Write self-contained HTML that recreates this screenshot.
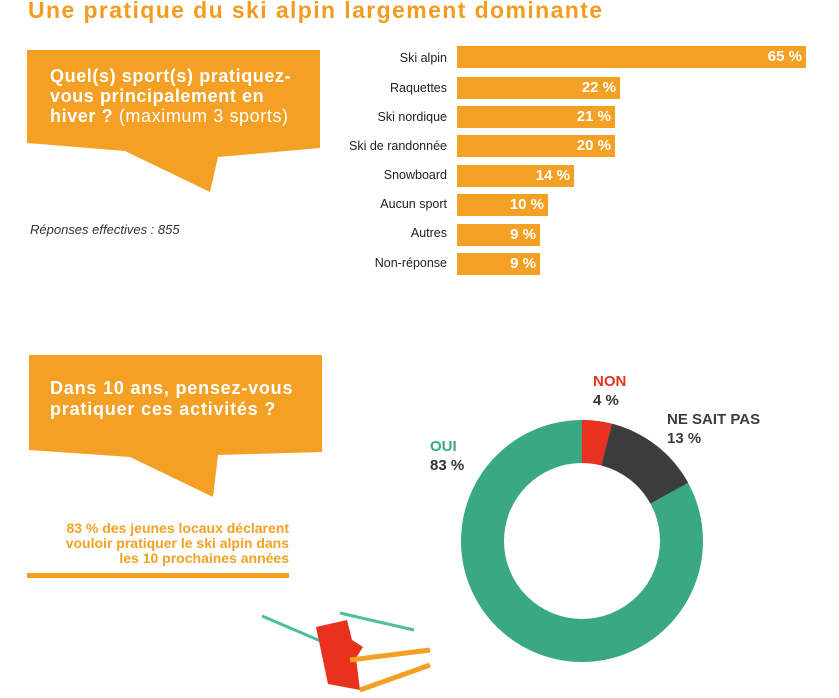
<!DOCTYPE html>
<html><head><meta charset="utf-8"><style>
body{margin:0;width:839px;height:698px;background:#fff;position:relative;overflow:hidden;font-family:"Liberation Sans",sans-serif}
.a{position:absolute}
.lbl{position:absolute;right:392px;font-size:12.5px;color:#222;text-align:right;white-space:nowrap}
.bar{position:absolute;left:457px;height:22px;background:#f4a024;color:#fff;font-weight:bold;font-size:15px;text-align:right;line-height:22px;box-sizing:border-box;padding-right:4px}
</style></head><body>
<div class="a" style="left:28px;top:-3px;font-size:23px;letter-spacing:1.4px;font-weight:bold;color:#f39c1f;white-space:nowrap">Une pratique du ski alpin largement dominante</div>
<svg class="a" style="left:0;top:0" width="839" height="698">
<polygon points="27,50 320,50 320,148 218,157 210,192 125,151 27,143" fill="#f4a024"/>
<polygon points="29,355 322,355 322,452 218,455 213,497 130,457 29,450" fill="#f4a024"/>
<rect x="27" y="573" width="262" height="5" fill="#f4a024"/>
<circle cx="582" cy="541" r="99.5" fill="none" stroke="#3aa983" stroke-width="43"/>
<circle cx="582" cy="541" r="99.5" fill="none" stroke="#e8321e" stroke-width="43" stroke-dasharray="25 1000" transform="rotate(-90 582 541)"/>
<circle cx="582" cy="541" r="99.5" fill="none" stroke="#3c3c3c" stroke-width="43" stroke-dasharray="0 25 81.3 1000" transform="rotate(-90 582 541)"/>
<line x1="262" y1="616" x2="330" y2="645" stroke="#4cbf9a" stroke-width="3"/>
<line x1="340" y1="613" x2="414" y2="630" stroke="#4cbf9a" stroke-width="3"/>
<polygon points="316,627 347,620 352,640 363,647 356,658 360,690 328,684" fill="#e8321e"/>
<line x1="350" y1="660" x2="430" y2="650" stroke="#f4a024" stroke-width="5"/>
<line x1="360" y1="690" x2="430" y2="665" stroke="#f4a024" stroke-width="5"/>
</svg>
<div class="a" style="left:50px;top:66px;font-size:18px;letter-spacing:0.6px;font-weight:bold;color:#fff;line-height:20px;white-space:nowrap">Quel(s) sport(s) pratiquez-<br>vous principalement en<br>hiver ? <span style="font-weight:normal">(maximum 3 sports)</span></div>
<div class="a" style="left:30px;top:222px;font-size:13px;font-style:italic;color:#333">Réponses effectives : 855</div>
<div class="a" style="left:50px;top:378px;font-size:18px;letter-spacing:0.8px;font-weight:bold;color:#fff;line-height:21px;white-space:nowrap">Dans 10 ans, pensez-vous<br>pratiquer ces activités ?</div>
<div class="a" style="left:27px;top:521px;width:262px;font-size:14px;font-weight:bold;color:#f4a024;line-height:15px;text-align:right;white-space:nowrap">83 % des jeunes locaux déclarent<br>vouloir pratiquer le ski alpin dans<br>les 10 prochaines années</div>
<div class="lbl" style="top:51px">Ski alpin</div><div class="bar" style="top:46px;width:349px">65 %</div>
<div class="lbl" style="top:81px">Raquettes</div><div class="bar" style="top:77px;width:163px">22 %</div>
<div class="lbl" style="top:110px">Ski nordique</div><div class="bar" style="top:106px;width:158px">21 %</div>
<div class="lbl" style="top:139px">Ski de randonnée</div><div class="bar" style="top:135px;width:158px">20 %</div>
<div class="lbl" style="top:168px">Snowboard</div><div class="bar" style="top:165px;width:117px">14 %</div>
<div class="lbl" style="top:197px">Aucun sport</div><div class="bar" style="top:194px;width:91px">10 %</div>
<div class="lbl" style="top:226px">Autres</div><div class="bar" style="top:224px;width:83px">9 %</div>
<div class="lbl" style="top:256px">Non-réponse</div><div class="bar" style="top:253px;width:83px">9 %</div>
<div class="a" style="left:593px;top:372px;font-size:15px;font-weight:bold;color:#e8321e;line-height:19px">NON<br><span style="color:#333">4 %</span></div>
<div class="a" style="left:667px;top:410px;font-size:15px;font-weight:bold;color:#3c3c3c;line-height:19px">NE SAIT PAS<br>13 %</div>
<div class="a" style="left:430px;top:437px;font-size:15px;font-weight:bold;color:#3aa983;line-height:19px">OUI<br><span style="color:#333">83 %</span></div>
</body></html>
